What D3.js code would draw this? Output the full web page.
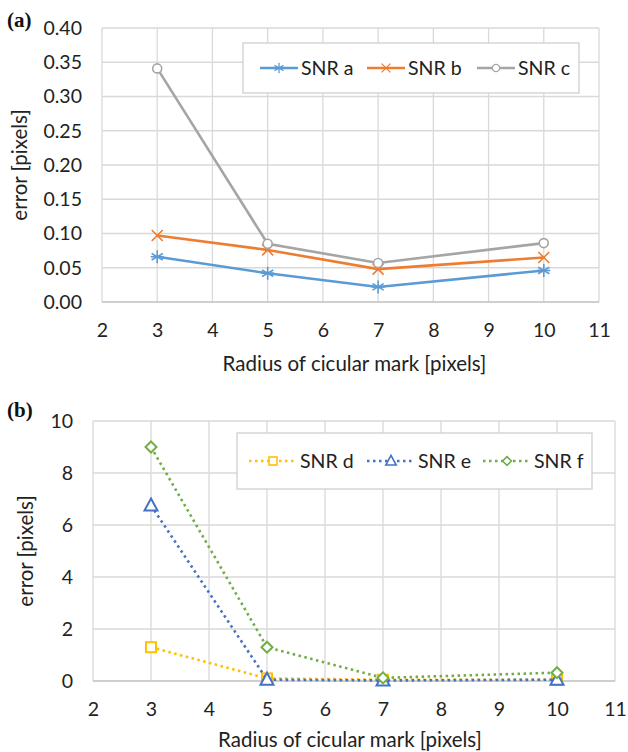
<!DOCTYPE html>
<html>
<head>
<meta charset="utf-8">
<script src="https://cdn.jsdelivr.net/npm/d3@7"></script>
<style>
  body { margin: 0; background: #fff; }
  svg { display: block; font-family: Lato, "Open Sans", sans-serif; }
</style>
</head>
<body>
<svg id="chart" width="628" height="752"></svg>
<script>
// radius values on the x axis
const radii = [3, 5, 7, 10];
const xTicks = [2, 3, 4, 5, 6, 7, 8, 9, 10, 11];

// panel (a)
const snrA = [0.066, 0.042, 0.022, 0.046];
const snrB = [0.097, 0.076, 0.048, 0.065];
const snrC = [0.341, 0.085, 0.057, 0.086];
const yTicksA = [0, 0.05, 0.10, 0.15, 0.20, 0.25, 0.30, 0.35, 0.40];

// panel (b)
const snrD = [1.3, 0.1, 0.05, 0.05];
const snrE = [6.75, 0.05, 0.02, 0.05];
const snrF = [9.0, 1.3, 0.12, 0.32];
const yTicksB = [0, 2, 4, 6, 8, 10];

const svg = d3.select('#chart');

function drawPanel(p) {
  const g = svg.append('g');
  const x = d3.scaleLinear().domain([2, 11]).range([p.left, p.right]);
  const y = d3.scaleLinear().domain([0, p.yMax]).range([p.bottom, p.top]);

  // grid
  g.selectAll('.vgrid').data(xTicks).enter().append('line')
    .attr('x1', d => x(d)).attr('x2', d => x(d))
    .attr('y1', p.top).attr('y2', p.bottom)
    .attr('stroke', '#d9d9d9').attr('stroke-width', 1.3);
  g.selectAll('.hgrid').data(p.yTicks).enter().append('line')
    .attr('x1', p.left).attr('x2', p.right)
    .attr('y1', d => y(d)).attr('y2', d => y(d))
    .attr('stroke', d => d === 0 ? '#bfbfbf' : '#d9d9d9')
    .attr('stroke-width', d => d === 0 ? 1.6 : 1.3);

  // axes (labels only)
  const xAxis = g.append('g')
    .attr('transform', 'translate(0,' + p.bottom + ')')
    .call(d3.axisBottom(x).tickValues(xTicks).tickSize(0).tickPadding(p.xPad));
  const yAxis = g.append('g')
    .attr('transform', 'translate(' + p.left + ',0)')
    .call(d3.axisLeft(y).tickValues(p.yTicks).tickFormat(d3.format(p.fmt)).tickSize(0).tickPadding(p.yPad));
  [xAxis, yAxis].forEach(a => {
    a.select('.domain').remove();
    a.selectAll('text').attr('font-size', 19.5).attr('fill', '#222')
      .attr('font-family', 'Lato, sans-serif');
  });

  g.append('text')
    .attr('x', (p.left + p.right) / 2 + p.xTitleShift).attr('y', p.xTitleY)
    .attr('text-anchor', 'middle').attr('font-size', 20.5).attr('fill', '#222')
    .text('Radius of cicular mark [pixels]');
  g.append('text')
    .attr('transform', 'translate(' + p.yTitleX + ',' + (p.top + p.bottom) / 2 + ') rotate(-90)')
    .attr('text-anchor', 'middle').attr('font-size', 20.5).attr('fill', '#222')
    .text('error [pixels]');

  g.append('text')
    .attr('x', 7).attr('y', p.labelY)
    .attr('font-family', '"Liberation Serif", "DejaVu Serif", serif')
    .attr('font-weight', 'bold').attr('font-size', 21).attr('fill', '#111')
    .text(p.label);

  // series
  const line = d3.line().x((d, i) => x(radii[i])).y(d => y(d));
  p.series.forEach(s => {
    g.append('path').datum(s.values)
      .attr('d', line).attr('fill', 'none')
      .attr('stroke', s.color).attr('stroke-width', 2.6)
      .attr('stroke-dasharray', s.dash || null)
      .attr('stroke-linecap', s.dash ? 'butt' : 'round');
    s.values.forEach((v, i) => marker(g, s.marker, x(radii[i]), y(v), s.color));
  });

  // legend
  const lg = g.append('g');
  lg.append('rect')
    .attr('x', p.legend.x).attr('y', p.legend.y)
    .attr('width', p.legend.w).attr('height', p.legend.h)
    .attr('fill', '#fff').attr('stroke', '#d0d0d0').attr('stroke-width', 1.3);
  p.series.forEach((s, i) => {
    const lx = p.legend.items[i];
    const ly = p.legend.y + p.legend.h / 2;
    lg.append('line')
      .attr('x1', lx).attr('x2', lx + p.legend.lineW)
      .attr('y1', ly).attr('y2', ly)
      .attr('stroke', s.color).attr('stroke-width', 2.6)
      .attr('stroke-dasharray', s.dash || null);
    marker(lg, s.marker, lx + p.legend.lineW / 2, ly, s.color, 0.8);
    lg.append('text')
      .attr('x', lx + p.legend.lineW + 3).attr('y', ly + 7)
      .attr('font-size', 19.5).attr('fill', '#222')
      .text(s.name);
  });
}

function marker(g, type, cx, cy, color, k) {
  k = k || 1;
  const m = g.append('g').attr('transform', 'translate(' + cx + ',' + cy + ') scale(' + k + ')')
    .attr('fill', 'none').attr('stroke', color).attr('stroke-width', 1.6);
  if (type === 'star') {
    [0, 60, 120].forEach(a => {
      m.append('line').attr('x1', 0).attr('y1', -6.5).attr('x2', 0).attr('y2', 6.5)
        .attr('transform', 'rotate(' + a + ')');
    });
    m.append('line').attr('x1', -6.5).attr('x2', 6.5).attr('y1', 0).attr('y2', 0);
  } else if (type === 'x') {
    m.append('path').attr('d', 'M-5.5,-5.5L5.5,5.5M-5.5,5.5L5.5,-5.5');
  } else if (type === 'circle') {
    m.append('circle').attr('r', 4.5).attr('fill', '#fff');
  } else if (type === 'square') {
    m.append('rect').attr('x', -5).attr('y', -5).attr('width', 10).attr('height', 10)
      .attr('fill', '#fff').attr('stroke-width', 2);
  } else if (type === 'triangle') {
    m.append('path').attr('d', 'M0,-7L6.5,5L-6.5,5Z').attr('fill', '#fff').attr('stroke-width', 2);
  } else if (type === 'diamond') {
    m.append('path').attr('d', 'M0,-5.5L5.5,0L0,5.5L-5.5,0Z').attr('fill', '#fff').attr('stroke-width', 2);
  }
}

drawPanel({
  label: '(a)', labelY: 27,
  left: 102, right: 599, top: 28, bottom: 302,
  yMax: 0.40, yTicks: yTicksA, fmt: '.2f',
  xPad: 21, yPad: 20, xTitleY: 371, xTitleShift: 4, yTitleX: 27,
  series: [
    { name: 'SNR a', values: snrA, color: '#5b9bd5', marker: 'star' },
    { name: 'SNR b', values: snrB, color: '#ed7d31', marker: 'x' },
    { name: 'SNR c', values: snrC, color: '#a5a5a5', marker: 'circle' }
  ],
  legend: { x: 243, y: 43, w: 336, h: 50, lineW: 38, items: [260, 367, 477] }
});

drawPanel({
  label: '(b)', labelY: 417,
  left: 93, right: 615, top: 421, bottom: 681,
  yMax: 10, yTicks: yTicksB, fmt: 'd',
  xPad: 21, yPad: 20, xTitleY: 747, xTitleShift: -4, yTitleX: 33,
  series: [
    { name: 'SNR d', values: snrD, color: '#ffc000', marker: 'square', dash: '2.5,3.5' },
    { name: 'SNR e', values: snrE, color: '#4472c4', marker: 'triangle', dash: '2.5,3.5' },
    { name: 'SNR f', values: snrF, color: '#70ad47', marker: 'diamond', dash: '2.5,3.5' }
  ],
  legend: { x: 237, y: 433, w: 355, h: 56, lineW: 48, items: [249, 367, 483] }
});
</script>
</body>
</html>
